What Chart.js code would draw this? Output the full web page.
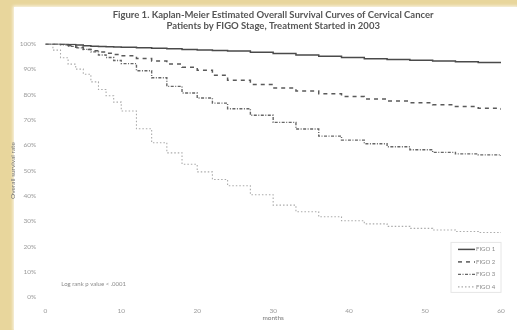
<!DOCTYPE html>
<html>
<head>
<meta charset="utf-8">
<script src="https://cdn.jsdelivr.net/npm/chart.js@4.4.0/dist/chart.umd.min.js"></script>
<style>
  html, body { margin: 0; padding: 0; }
  body {
    width: 517px; height: 330px; overflow: hidden;
    background: #e8d69c;
  }
  #card {
    position: absolute; left: 14px; top: 7px; right: 0; bottom: 0;
    background: #fff;
    box-shadow: 0 0 3px 1px rgba(255,255,255,0.8);
  }
  #wrap { position: absolute; left: 0; top: 0; width: 517px; height: 330px; }
</style>
</head>
<body>
<div id="card"></div>
<div id="wrap"><canvas id="myChart" width="517" height="330"></canvas></div>
<script>
// follow-up time (months) and estimated survival (%) by FIGO stage
const months = [0, 1, 2, 3, 4, 5, 6, 7, 8, 9, 10, 12, 14, 16, 18, 20, 22, 24, 27, 30, 33, 36, 39, 42, 45, 48, 51, 54, 57, 60];
const figo1 = [100, 100, 100, 99.8, 99.5, 99.2, 99, 98.9, 98.8, 98.7, 98.6, 98.4, 98.2, 98, 97.8, 97.6, 97.4, 97.2, 96.7, 96.2, 95.6, 95.1, 94.6, 94.1, 93.8, 93.5, 93.2, 92.9, 92.6, 92.3];
const figo2 = [100, 100, 99.8, 99.3, 98.6, 97.8, 97.3, 96.8, 96.3, 95.8, 95.3, 94.2, 93.2, 92, 90.8, 89.6, 87.6, 85.6, 84, 82.6, 81.4, 80.3, 79.2, 78.2, 77.4, 76.8, 76, 75.3, 74.6, 74];
const figo3 = [100, 100, 99.6, 99, 98.4, 97.8, 96.8, 95.6, 94.6, 93.4, 92.2, 89.4, 86.6, 83.2, 80.6, 78.6, 76.6, 74.4, 71.8, 69, 66.4, 63.6, 62, 60.6, 59.4, 58.2, 57.2, 56.6, 56.2, 55.8];
const figo4 = [100, 97.5, 94.5, 92, 90, 88, 85, 82, 79.5, 77, 73.5, 66.5, 61, 57, 52.5, 49.5, 46.5, 44, 40.5, 36.4, 33.8, 31.8, 30.2, 29, 28, 27.2, 26.6, 26, 25.6, 25.4];
const stageLabels = ['FIGO 1', 'FIGO 2', 'FIGO 3', 'FIGO 4'];
const pValueText = 'Log rank p value < .0001';

const fontFamily = 'Lato, "Open Sans", sans-serif';

function points(values) {
    return months.map((m, i) => ({ x: m, y: values[i] }));
}

// legend box + log-rank note, drawn inside the plot area
const boxLegend = {
    id: 'boxLegend',
    afterDatasetsDraw(chart) {
        const { ctx, chartArea } = chart;
        const right = chartArea.right;
        const bottom = chartArea.bottom;
        const rowH = 12.5;
        const top = bottom - 55;
        ctx.save();
        ctx.strokeStyle = '#e6e6e6';
        ctx.lineWidth = 1;
        ctx.strokeRect(right - 50, top, 50, 50);
        ctx.font = '6px ' + fontFamily;
        ctx.textBaseline = 'middle';
        chart.data.datasets.forEach((ds, i) => {
            const y = top + 7 + i * rowH;
            ctx.strokeStyle = ds.borderColor;
            ctx.lineWidth = ds.borderWidth;
            ctx.setLineDash(ds.borderDash || []);
            ctx.beginPath();
            ctx.moveTo(right - 43, y);
            ctx.lineTo(right - 26, y);
            ctx.stroke();
            ctx.setLineDash([]);
            ctx.fillStyle = '#8a8a8a';
            ctx.fillText(ds.label, right - 25, y);
        });
        ctx.fillStyle = '#8a8a8a';
        ctx.fillText(pValueText, chartArea.left + 16, bottom - 13);
        ctx.restore();
    }
};

const ctx = document.getElementById('myChart').getContext('2d');
new Chart(ctx, {
    type: 'line',
    data: {
        datasets: [
            {
                label: stageLabels[0],
                data: points(figo1),
                borderColor: '#4a4a4a',
                borderWidth: 1.5,
                stepped: true
            },
            {
                label: stageLabels[1],
                data: points(figo2),
                borderColor: '#5a5a5a',
                borderWidth: 1.5,
                borderDash: [4, 4],
                stepped: true
            },
            {
                label: stageLabels[2],
                data: points(figo3),
                borderColor: '#666666',
                borderWidth: 1.4,
                borderDash: [3, 1.5, 1, 1.5],
                stepped: true
            },
            {
                label: stageLabels[3],
                data: points(figo4),
                borderColor: '#aaaaaa',
                borderWidth: 1.1,
                borderDash: [1.5, 2],
                stepped: true
            }
        ]
    },
    options: {
        responsive: false,
        animation: false,
        elements: { point: { radius: 0 } },
        layout: { padding: { left: 9, right: 16, top: 6, bottom: 8 } },
        scales: {
            x: {
                type: 'linear',
                min: 0,
                max: 60,
                grid: { display: false },
                border: { display: false },
                ticks: {
                    stepSize: 10,
                    color: '#9a9a9a',
                    font: { family: fontFamily, size: 6.5 },
                    padding: 2
                },
                title: {
                    display: true,
                    text: 'months',
                    color: '#777',
                    font: { family: fontFamily, size: 6.5 },
                    padding: { top: -3, bottom: 0 }
                }
            },
            y: {
                min: 0,
                max: 100,
                grid: { display: false },
                border: { display: false },
                ticks: {
                    stepSize: 10,
                    color: '#9a9a9a',
                    font: { family: fontFamily, size: 6.5 },
                    padding: 1,
                    callback: v => v + '%'
                },
                title: {
                    display: true,
                    text: 'Overall survival rate',
                    color: '#777',
                    font: { family: fontFamily, size: 6.5 },
                    padding: { top: 0, bottom: 2 }
                }
            }
        },
        plugins: {
            legend: { display: false },
            tooltip: { enabled: false },
            title: {
                display: true,
                fullSize: false,
                text: [
                    'Figure 1. Kaplan-Meier Estimated Overall Survival Curves of Cervical Cancer',
                    'Patients by FIGO Stage, Treatment Started in 2003'
                ],
                color: '#555',
                font: { family: fontFamily, size: 9.5, weight: 'bold' },
                lineHeight: 1.65,
                padding: { top: 3, bottom: 12 }
            }
        }
    },
    plugins: [boxLegend]
});
</script>
</body>
</html>
